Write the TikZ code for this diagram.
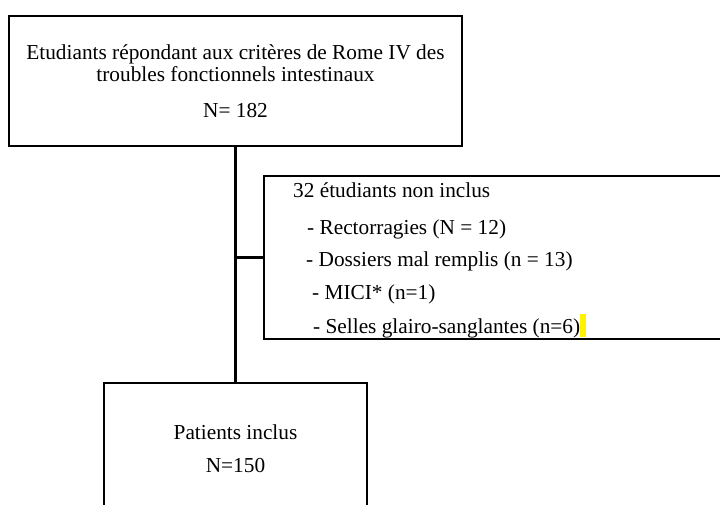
\documentclass[tikz,border=0pt]{standalone}
\usepackage{fontspec}
\setmainfont{Liberation Serif}
\begin{document}
\begin{tikzpicture}[x=1pt,y=-1pt,
  box/.style={draw=black,line width=2pt,inner sep=0pt,fill=none},
  txt/.style={inner sep=0pt,font=\fontsize{21.3}{25}\selectfont},
  conn/.style={line width=3.5pt,draw=black}]
\useasboundingbox (0,0) rectangle (720,505);
% boxes
\node[box,minimum width=453pt,minimum height=130pt] (top) at (235.5,81) {};
\node[box,minimum width=480pt,minimum height=163pt,anchor=west] (side) at (263,257.5) {};
\node[box,minimum width=263pt,minimum height=150pt,anchor=north] (bot) at (235.5,382) {};
% highlight
\fill[yellow] (580,314) rectangle (586,337);
% texts top
\node[txt,anchor=base] (t1) at (235.5,60) {Etudiants répondant aux critères de Rome IV des};
\node[txt,anchor=base] (t2) at (235.5,82) {troubles fonctionnels intestinaux};
\node[txt,anchor=base] (t3) at (235.5,118) {N= 182};
% texts side
\node[txt,anchor=base west] (s1) at (293,198) {32 étudiants non inclus};
\node[txt,anchor=base west] (s2) at (307,234) {- Rectorragies (N = 12)};
\node[txt,anchor=base west] (s3) at (306,266) {- Dossiers mal remplis (n = 13)};
\node[txt,anchor=base west] (s4) at (312,299) {- MICI* (n=1)};
\node[txt,anchor=base west] (s5) at (313,333) {- Selles glairo-sanglantes (n=6)};
% texts bottom
\node[txt,anchor=base] (b1) at (235.5,439) {Patients inclus};
\node[txt,anchor=base] (b2) at (235.5,472) {N=150};
% connectors
\draw[conn] (top.south) -- (bot.north);
\draw[line width=3pt] (top.south |- side.west) -- (side.west);
\end{tikzpicture}
\end{document}
